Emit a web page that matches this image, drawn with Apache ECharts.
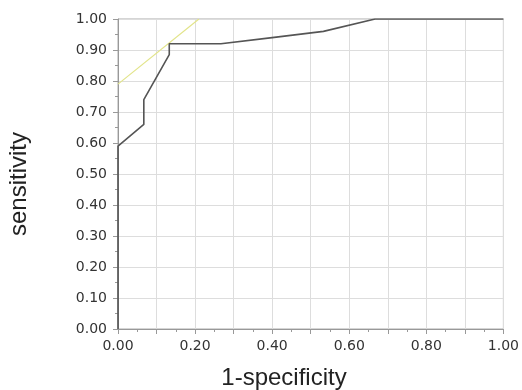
<!DOCTYPE html>
<html><head><meta charset="utf-8">
<script src="https://cdn.jsdelivr.net/npm/echarts@6/dist/echarts.min.js"></script>
<style>html,body{margin:0;padding:0;background:#fff}#c{width:522px;height:390px}</style>
</head><body><div id="c"></div>
<script>
const rocFpr  = [0, 0, 0.067, 0.067, 0.133, 0.133, 0.267, 0.4, 0.533, 0.667, 1.0];
const rocTpr  = [0, 0.59, 0.66, 0.74, 0.885, 0.92, 0.92, 0.94, 0.96, 1.0, 1.0];
const tangentX = [0, 0.21];
const tangentY = [0.79, 1.0];
const xTitle = '1-specificity';
const yTitle = 'sensitivity';

const chart = echarts.init(document.getElementById('c'));
const tickFont = {fontFamily: 'DejaVu Sans', fontSize: 14, color: '#333'};
const titleFont = {fontFamily: 'Liberation Sans', fontSize: 24, fill: '#222'};
chart.setOption({
  animation: false,
  grid: {left: 118, right: 17, top: 19, bottom: 61, show: true, borderColor: '#aaa', borderWidth: 1},
  xAxis: {
    type: 'value', min: 0, max: 1, interval: 0.1,
    axisLine: {show: true, lineStyle: {color: '#999'}},
    axisTick: {show: true, length: 5, lineStyle: {color: '#999'}},
    minorTick: {show: true, splitNumber: 2, length: 3, lineStyle: {color: '#999'}},
    splitLine: {show: true, lineStyle: {color: '#ddd'}},
    axisLabel: Object.assign({margin: 10, formatter: v => {
      const r = Math.round(v * 10);
      return r % 2 === 0 ? v.toFixed(2) : '';
    }}, tickFont)
  },
  yAxis: {
    type: 'value', min: 0, max: 1, interval: 0.1,
    axisLine: {show: true, lineStyle: {color: '#999'}},
    axisTick: {show: true, length: 5, lineStyle: {color: '#999'}},
    minorTick: {show: true, splitNumber: 2, length: 3, lineStyle: {color: '#999'}},
    splitLine: {show: true, lineStyle: {color: '#ddd'}},
    axisLabel: Object.assign({margin: 11, formatter: v => v.toFixed(2)}, tickFont)
  },
  graphic: [
    {type: 'text', x: 284, y: 378, style: Object.assign({text: xTitle, align: 'center', verticalAlign: 'middle'}, titleFont)},
    {type: 'text', x: 19, y: 184, rotation: Math.PI / 2, style: Object.assign({text: yTitle, align: 'center', verticalAlign: 'middle'}, titleFont)}
  ],
  series: [
    {
      type: 'line', symbol: 'none',
      data: tangentX.map((x, i) => [x, tangentY[i]]),
      lineStyle: {color: '#e2e48a', width: 1.2}, z: 2
    },
    {
      type: 'line', symbol: 'none',
      data: rocFpr.map((x, i) => [x, rocTpr[i]]),
      lineStyle: {color: '#555', width: 1.6}, z: 3
    }
  ]
});
</script></body></html>
